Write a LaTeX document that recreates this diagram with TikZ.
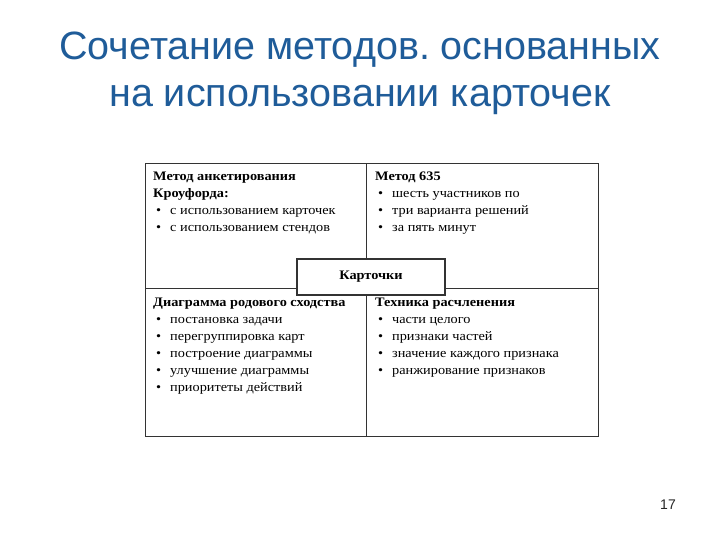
\documentclass[tikz,border=0pt]{standalone}
\usepackage{fontspec}
\setmainfont{Liberation Serif}
\newfontfamily\titlefont{Liberation Sans}
\newfontfamily\cellfont[FakeStretch=1.1]{Liberation Serif}
\usepackage{xcolor}
\usetikzlibrary{positioning}
\definecolor{titleBlue}{HTML}{1F5C99}
\newcommand{\itm}[1]{\hspace*{3pt}\makebox[14pt][l]{\textbullet}#1}
\tikzset{
  titletext/.style={font=\titlefont\fontsize{39.5}{47}\selectfont,text=titleBlue,
    align=center,inner sep=0pt},
  cell/.style={draw=black!80,line width=1.1pt,fill=white,anchor=north west,
    inner sep=0pt},
  celltext/.style={font=\cellfont\fontsize{13}{17}\selectfont,align=left,
    anchor=north west,inner sep=0pt},
  centerbox/.style={draw=black!80,line width=1.1pt,fill=white,
    minimum width=148pt,minimum height=36pt,font=\cellfont\fontsize{13}{14}\selectfont\bfseries},
  pagenum/.style={font=\titlefont\fontsize{14}{16}\selectfont,text=black!85}
}
\frenchspacing
\begin{document}
\begin{tikzpicture}[x=1pt,y=-1pt]
  \useasboundingbox[fill=white] (0,0) rectangle (720,540);
  \node[titletext, anchor=base] (title1) at (360,60) {Сочетание методов. основанных};
  \node[titletext, anchor=base] (title2) at (360,107) {на использовании карточек};

  \node[cell, minimum width=221pt, minimum height=125pt] (tl) at (145,163) {};
  \node[cell, minimum width=232pt, minimum height=125pt] (tr) at (366,163) {};
  \node[cell, minimum width=221pt, minimum height=148pt] (bl) at (145,288) {};
  \node[cell, minimum width=232pt, minimum height=148pt] (br) at (366,288) {};

  \node[celltext] (tltext) at (153,172) {\textbf{Метод анкетирования}\\\textbf{Кроуфорда:}\\
    \itm{с использованием карточек}\\\itm{с использованием стендов}};
  \node[celltext] (trtext) at (375,172) {\textbf{Метод 635}\\
    \itm{шесть участников по}\\\itm{три варианта решений}\\\itm{за пять минут}};
  \node[celltext] (bltext) at (153,298) {\textbf{Диаграмма родового сходства}\\
    \itm{постановка задачи}\\\itm{перегруппировка карт}\\\itm{построение диаграммы}\\
    \itm{улучшение диаграммы}\\\itm{приоритеты действий}};
  \node[celltext] (brtext) at (375,298) {\textbf{Техника расчленения}\\
    \itm{части целого}\\\itm{признаки частей}\\\itm{значение каждого признака}\\
    \itm{ранжирование признаков}};

  \node[centerbox] (cards) at (371,277) {Карточки};

  \node[pagenum, anchor=base] (page) at (668,509) {17};
\end{tikzpicture}
\end{document}
